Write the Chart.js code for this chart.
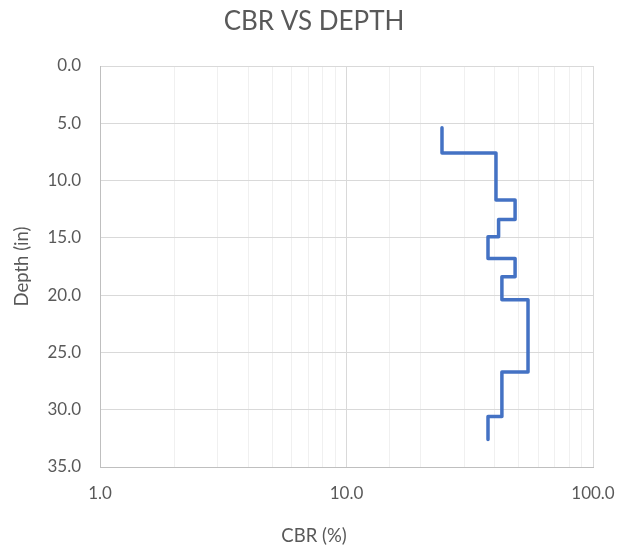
<!DOCTYPE html>
<html>
<head>
<meta charset="utf-8">
<script src="https://cdn.jsdelivr.net/npm/chart.js@4.4.1/dist/chart.umd.min.js"></script>
<style>
  html, body { margin: 0; padding: 0; background: #fff; }
  #wrap { width: 628px; height: 548px; }
</style>
</head>
<body>
<div id="wrap"><canvas id="chartCbr"></canvas></div>
<script>
// CBR per layer
const layerTop = [5.4, 7.6, 11.7, 13.4, 14.9, 16.8, 18.4, 20.4, 26.7, 30.6];
const layerBottom = [7.6, 11.7, 13.4, 14.9, 16.8, 18.4, 20.4, 26.7, 30.6, 32.6];
const layerCbr = [24.4, 40.4, 48.3, 41.4, 37.5, 48.3, 42.7, 54.5, 42.7, 37.5];
const xTickLabels = [1, 10, 100];
const depthTicks = [0, 5, 10, 15, 20, 25, 30, 35];

// step profile: each layer is a vertical segment
const points = [];
layerCbr.forEach((cbr, i) => {
    points.push({ x: cbr, y: layerTop[i] });
    points.push({ x: cbr, y: layerBottom[i] });
});

const textColor = '#595959';
const fontFamily = 'Lato, "Open Sans", sans-serif';

new Chart(document.getElementById('chartCbr'), {
    type: 'scatter',
    data: {
        datasets: [{
            label: 'CBR',
            data: points,
            showLine: true,
            borderColor: '#4472C4',
            borderWidth: 3.5,
            borderJoinStyle: 'round',
            borderCapStyle: 'round',
            pointRadius: 0,
            fill: false
        }]
    },
    options: {
        responsive: true,
        maintainAspectRatio: false,
        animation: false,
        layout: { padding: 0 },
        plugins: {
            legend: { display: false },
            tooltip: { enabled: false },
            title: {
                display: true,
                text: 'CBR VS DEPTH',
                color: textColor,
                font: { family: fontFamily, size: 26, weight: 'normal', lineHeight: 1.2 },
                padding: { top: 6, bottom: 28.8 }
            },
            subtitle: {
                display: true,
                position: 'bottom',
                text: 'CBR (%)',
                color: textColor,
                font: { family: fontFamily, size: 18.5, weight: 'normal', lineHeight: 1.2 },
                padding: { top: 0, bottom: 1 }
            }
        },
        scales: {
            x: {
                type: 'logarithmic',
                min: 1,
                max: 100,
                afterFit: function (scale) {
                    scale.height = 57.8;
                    scale.paddingLeft = 0;
                    scale.paddingRight = 35;
                },
                border: { color: '#bfbfbf', width: 1 },
                grid: {
                    drawTicks: false,
                    color: function (ctx) {
                        const v = ctx.tick ? ctx.tick.value : 0;
                        return xTickLabels.includes(v) ? '#d9d9d9' : '#f0f0f0';
                    }
                },
                ticks: {
                    autoSkip: false,
                    maxRotation: 0,
                    padding: 16,
                    color: textColor,
                    font: { family: fontFamily, size: 17 },
                    callback: function (value) {
                        return xTickLabels.includes(value) ? value.toFixed(1) : '';
                    }
                }
            },
            y: {
                type: 'linear',
                reverse: true,
                min: 0,
                max: 35,
                afterFit: function (scale) { scale.width = 100; },
                afterBuildTicks: function (scale) {
                    scale.ticks = depthTicks.map(v => ({ value: v }));
                },
                border: { color: '#bfbfbf', width: 1 },
                grid: { drawTicks: false, color: '#d9d9d9' },
                title: {
                    display: true,
                    text: 'Depth (in)',
                    color: textColor,
                    font: { family: fontFamily, size: 18.5, lineHeight: 1.2 },
                    padding: { top: 11, bottom: 0 }
                },
                ticks: {
                    padding: 19,
                    color: textColor,
                    font: { family: fontFamily, size: 17 },
                    callback: function (value) { return Number(value).toFixed(1); }
                }
            }
        }
    }
});
</script>
</body>
</html>
